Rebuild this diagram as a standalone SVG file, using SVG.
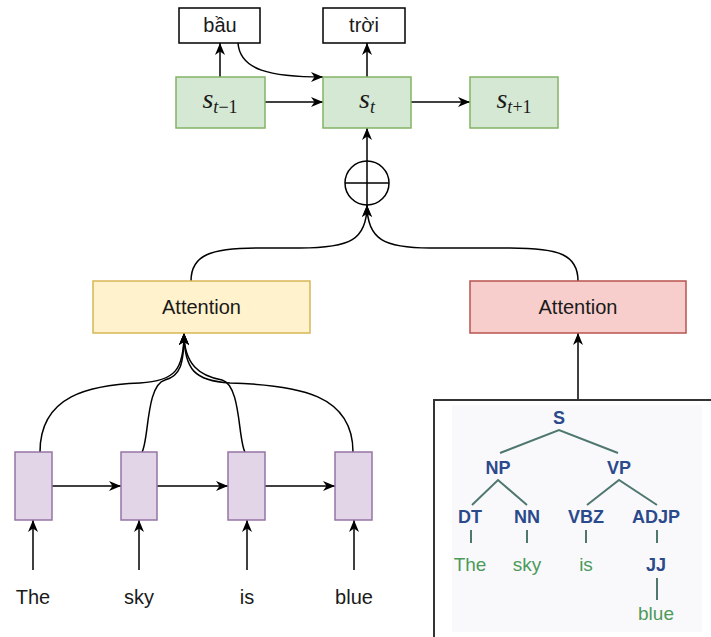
<svg xmlns="http://www.w3.org/2000/svg" width="711" height="637" viewBox="0 0 711 637">
<style>
.edge{fill:none;stroke:#000;stroke-width:1.5}
.word{fill:#fff;stroke:#000;stroke-width:1.5}
.green{fill:#d5e8d4;stroke:#82b366;stroke-width:1.5}
.yellow{fill:#fff2cc;stroke:#d6b656;stroke-width:1.5}
.red{fill:#f8cecc;stroke:#b85450;stroke-width:1.5}
.purple{fill:#e1d5e7;stroke:#9673a6;stroke-width:1.5}
.lbl{font-family:"Liberation Sans",Arial,sans-serif;font-size:20px;fill:#1a1a1a;text-anchor:middle}
.math{font-family:"Liberation Serif","DejaVu Serif",serif;font-style:italic;font-size:28px;fill:#1a1a1a;text-anchor:middle}
.sub{font-size:18px}
.up{font-style:normal}
.tag{font-family:"Liberation Sans",Arial,sans-serif;font-weight:bold;font-size:18px;fill:#2b4a8c;text-anchor:middle}
.leaf{font-family:"Liberation Sans",Arial,sans-serif;font-size:19px;fill:#4d9a5b;text-anchor:middle}
.tl{stroke:#4f7770;stroke-width:2;fill:none}
</style>
<defs>
<marker id="arr" viewBox="0 0 12 10" refX="12" refY="5" markerWidth="12" markerHeight="10" markerUnits="userSpaceOnUse" orient="auto">
<path d="M0,0 L12,5 L0,10 L3.5,5 Z" fill="#000"/>
</marker>
</defs>

<g id="connectors">
<path class="edge" d="M220,77 L220,43" marker-end="url(#arr)"/>
<path class="edge" d="M367,77 L367,43" marker-end="url(#arr)"/>
<path class="edge" d="M238,43 C240,70 270,77 323,77" marker-end="url(#arr)"/>
<path class="edge" d="M265,102 L323,102" marker-end="url(#arr)"/>
<path class="edge" d="M411,102 L470,102" marker-end="url(#arr)"/>
<path class="edge" d="M367,161 L367,128" marker-end="url(#arr)"/>
<path class="edge" d="M191,281 C191,255 210,248 260,248 L300,248 C350,248 367,240 367,205" marker-end="url(#arr)"/>
<path class="edge" d="M578,281 C578,255 560,248 510,248 L430,248 C385,248 367,240 367,205" marker-end="url(#arr)"/>
<path class="edge" d="M52,486 L121,486" marker-end="url(#arr)"/>
<path class="edge" d="M157,486 L228,486" marker-end="url(#arr)"/>
<path class="edge" d="M265,486 L335,486" marker-end="url(#arr)"/>
<path class="edge" d="M33,570 L33,520" marker-end="url(#arr)"/>
<path class="edge" d="M139,570 L139,520" marker-end="url(#arr)"/>
<path class="edge" d="M247,570 L247,520" marker-end="url(#arr)"/>
<path class="edge" d="M354,570 L354,520" marker-end="url(#arr)"/>
<path class="edge" d="M40,452 C40,395 90,385 140,383 C175,381 184,370 184,333" marker-end="url(#arr)"/>
<path class="edge" d="M142,452 C149,440 146,385 165,380 C180,376 184,365 184,333" marker-end="url(#arr)"/>
<path class="edge" d="M245,452 C238,440 241,385 222,380 C200,376 184,365 184,333" marker-end="url(#arr)"/>
<path class="edge" d="M353,452 C353,395 300,385 230,383 C195,381 184,370 184,333" marker-end="url(#arr)"/>
<path class="edge" d="M578,400 L578,333" marker-end="url(#arr)"/>
</g>

<g id="bau"><rect class="word" x="179" y="8" width="81" height="35"/><text class="lbl" x="220" y="32">bầu</text></g>
<g id="troi"><rect class="word" x="323" y="8" width="82" height="35"/><text class="lbl" x="364" y="32">trời</text></g>

<g id="s_tm1"><rect class="green" x="176" y="77" width="89" height="51"/>
<text class="math" x="220" y="108">s<tspan class="sub" dy="5">t</tspan><tspan class="sub up">−1</tspan></text></g>
<g id="s_t"><rect class="green" x="323" y="77" width="88" height="51"/>
<text class="math" x="367" y="108">s<tspan class="sub" dy="5">t</tspan></text></g>
<g id="s_tp1"><rect class="green" x="470" y="77" width="88" height="51"/>
<text class="math" x="514" y="108">s<tspan class="sub" dy="5">t</tspan><tspan class="sub up">+1</tspan></text></g>

<g id="oplus"><circle cx="367" cy="183" r="22" fill="#fff" stroke="#000" stroke-width="1.5"/>
<path d="M367,161 L367,205 M345,183 L389,183" stroke="#000" stroke-width="1.5"/></g>

<g id="attention_left"><rect class="yellow" x="93" y="281" width="217" height="52"/><text class="lbl" x="201.5" y="314">Attention</text></g>
<g id="attention_right"><rect class="red" x="470" y="281" width="216" height="52"/><text class="lbl" x="578" y="314">Attention</text></g>

<g id="h1"><rect class="purple" x="15" y="452" width="37" height="68"/></g>
<g id="h2"><rect class="purple" x="121" y="452" width="36" height="68"/></g>
<g id="h3"><rect class="purple" x="228" y="452" width="37" height="68"/></g>
<g id="h4"><rect class="purple" x="335" y="452" width="37" height="68"/></g>

<g id="w1"><text class="lbl" x="33" y="604">The</text></g>
<g id="w2"><text class="lbl" x="139" y="604">sky</text></g>
<g id="w3"><text class="lbl" x="247" y="604">is</text></g>
<g id="w4"><text class="lbl" x="354" y="604">blue</text></g>

<g id="parse_tree">
<rect x="434" y="400" width="300" height="300" fill="#fff" stroke="#333" stroke-width="2"/>
<rect x="452" y="405" width="250" height="227" fill="#f9f9fb"/>
<path class="tl" d="M500,453 L559,430 L618,453 M472,505 L498,480 L527,505 M587,505 L619,480 L657,505 M471,530 L471,543 M527,530 L527,543 M586,530 L586,543 M657,530 L657,543 M657,578 L657,600"/>
<text class="tag" x="559" y="424">S</text>
<text class="tag" x="498" y="474">NP</text>
<text class="tag" x="619" y="474">VP</text>
<text class="tag" x="470" y="523">DT</text>
<text class="tag" x="527" y="523">NN</text>
<text class="tag" x="586" y="523">VBZ</text>
<text class="tag" x="656" y="523">ADJP</text>
<text class="leaf" x="470" y="571">The</text>
<text class="leaf" x="527" y="571">sky</text>
<text class="leaf" x="586" y="571">is</text>
<text class="tag" x="656" y="571">JJ</text>
<text class="leaf" x="656" y="620">blue</text>
</g>
</svg>
